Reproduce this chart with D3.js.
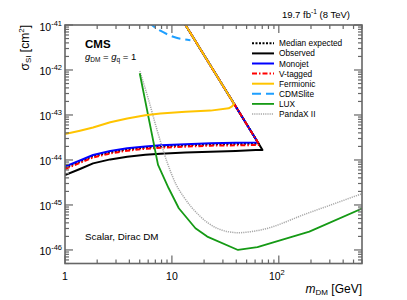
<!DOCTYPE html>
<html>
<head>
<meta charset="utf-8">
<script src="https://cdn.jsdelivr.net/npm/d3@7"></script>
<style>
body { margin: 0; background: #fff; }
text { font-family: "Liberation Sans", Arial, Helvetica, sans-serif; fill: #000; }
</style>
</head>
<body>
<script>
// dark matter mass (GeV) and cross-section limits (cm^2)
var obsMass = [1, 1.38, 1.83, 2.65, 3.82, 5.64, 7.8, 13.4, 23, 39.5, 60.8, 70.3, 64.9, 13.4, 11];
var obsSigma = [4.64e-45, 6.31e-45, 8.4e-45, 1.03e-44, 1.18e-44, 1.30e-44, 1.38e-44, 1.46e-44, 1.53e-44, 1.59e-44, 1.67e-44, 1.66e-44, 2.29e-44, 1e-41, 2.17e-41];

var expMass = [1, 1.38, 1.83, 2.65, 3.82, 5.64, 7.8, 13.4, 23, 39.5, 64.7, 13.4, 11];
var expSigma = [6.75e-45, 9.2e-45, 1.21e-44, 1.48e-44, 1.71e-44, 1.88e-44, 1.99e-44, 2.11e-44, 2.21e-44, 2.27e-44, 2.3e-44, 1e-41, 2.17e-41];

var monoMass = [1, 1.38, 1.83, 2.65, 3.82, 5.64, 7.8, 13.4, 23, 39.5, 63.7, 13.4, 11];
var monoSigma = [7.17e-45, 9.75e-45, 1.29e-44, 1.58e-44, 1.82e-44, 2.0e-44, 2.12e-44, 2.25e-44, 2.35e-44, 2.41e-44, 2.45e-44, 1e-41, 2.17e-41];

var vtagMass = [1, 1.38, 1.83, 2.65, 3.82, 5.64, 7.8, 13.4, 23, 39.5, 65.9, 13.4, 11];
var vtagSigma = [6.31e-45, 8.58e-45, 1.14e-44, 1.39e-44, 1.61e-44, 1.77e-44, 1.87e-44, 1.98e-44, 2.08e-44, 2.12e-44, 2.15e-44, 1e-41, 2.17e-41];

var fermMass = [1, 1.38, 1.83, 2.65, 3.82, 5.64, 7.8, 13.4, 23, 34, 36.5, 38.1, 13.4, 11];
var fermSigma = [3.78e-44, 4.48e-44, 5.27e-44, 6.89e-44, 8.36e-44, 9.85e-44, 1.08e-43, 1.18e-43, 1.25e-43, 1.41e-43, 1.55e-43, 1.77e-43, 1e-41, 2.17e-41];

var cdmsMass = [6.0, 6.5, 7.8, 9.34, 11.0, 12.9, 14.9];
var cdmsSigma = [1.2e-41, 1e-41, 7.46e-42, 6.0e-42, 5.2e-42, 4.81e-42, 4.57e-42];

var luxMass = [5.0, 7.42, 9.33, 11.6, 16.6, 21.4, 41.5, 63.1, 193, 600];
var luxSigma = [8.45e-43, 7.74e-45, 2.35e-45, 8.45e-46, 3.03e-46, 1.98e-46, 1.0e-46, 1.15e-46, 2.55e-46, 8.3e-46];

var pandaMass = [5.01, 6.06, 7.26, 9.01, 11.0, 12.9, 18.5, 26.5, 41.5, 67.7, 186, 600];
var pandaSigma = [9.5e-43, 2.15e-43, 4.65e-44, 9.0e-45, 2.78e-45, 1.51e-45, 5.5e-46, 3.03e-46, 2.42e-46, 2.78e-46, 6.55e-46, 1.78e-45];

var legendNames = ['Median expected', 'Observed', 'Monojet', 'V-tagged', 'Fermionic', 'CDMSlite', 'LUX', 'PandaX II'];
var xLabelTicks = [1, 10, 100];
var xLabelExp = ['', '', '2'];
var yLabelTicks = [1e-46, 1e-45, 1e-44, 1e-43, 1e-42, 1e-41];
var yLabelExp = ['-46', '-45', '-44', '-43', '-42', '-41'];

var width = 407, height = 300;
var margin = {left: 65, right: 45, top: 25, bottom: 36.5};

var svg = d3.select('body').append('svg')
    .attr('width', width)
    .attr('height', height);

var x = d3.scaleLog().domain([1, 600]).range([margin.left, width - margin.right]);
var y = d3.scaleLog().domain([5e-47, 1e-41]).range([height - margin.bottom, margin.top]);

svg.append('clipPath').attr('id', 'plotclip')
    .append('rect')
    .attr('x', x.range()[0]).attr('y', y.range()[1])
    .attr('width', x.range()[1] - x.range()[0])
    .attr('height', y.range()[0] - y.range()[1]);

var styles = {
    'Median expected': {color: '#000', width: 2, dash: '2,1.5'},
    'Observed': {color: '#000', width: 2, dash: null},
    'Monojet': {color: '#0000ff', width: 2, dash: null},
    'V-tagged': {color: '#ff0000', width: 2, dash: '5,2,1.5,2'},
    'Fermionic': {color: '#ffc400', width: 2, dash: null},
    'CDMSlite': {color: '#1e9fff', width: 2, dash: '9,5'},
    'LUX': {color: '#159a15', width: 1.8, dash: null},
    'PandaX II': {color: '#a8a8a8', width: 1.5, dash: '1.2,1'}
};

var curves = svg.append('g').attr('clip-path', 'url(#plotclip)');

function drawCurve(name, mass, sigma, curve) {
    var pts = mass.map(function (m, i) { return [m, sigma[i]]; });
    var line = d3.line()
        .x(function (d) { return x(d[0]); })
        .y(function (d) { return y(d[1]); })
        .curve(curve || d3.curveLinear);
    var s = styles[name];
    curves.append('path')
        .attr('d', line(pts))
        .attr('fill', 'none')
        .attr('stroke', s.color)
        .attr('stroke-width', s.width)
        .attr('stroke-dasharray', s.dash)
        .attr('stroke-linejoin', 'round');
}

drawCurve('Observed', obsMass, obsSigma);
drawCurve('Median expected', expMass, expSigma);
drawCurve('Monojet', monoMass, monoSigma);
drawCurve('V-tagged', vtagMass, vtagSigma);
drawCurve('PandaX II', pandaMass, pandaSigma, d3.curveMonotoneX);
drawCurve('LUX', luxMass, luxSigma);
drawCurve('Fermionic', fermMass, fermSigma);
drawCurve('CDMSlite', cdmsMass, cdmsSigma, d3.curveMonotoneX);

// frame and ticks
var frameColor = '#666';
var x0 = x.range()[0], x1 = x.range()[1], y0 = y.range()[0], y1 = y.range()[1];
var axes = svg.append('g').attr('stroke', frameColor).attr('stroke-width', 1.2);

x.ticks().forEach(function (v) {
    var major = Math.abs(Math.log10(v) - Math.round(Math.log10(v))) < 1e-9;
    var len = major ? 8 : 4;
    axes.append('line').attr('x1', x(v)).attr('x2', x(v)).attr('y1', y0).attr('y2', y0 - len);
    axes.append('line').attr('x1', x(v)).attr('x2', x(v)).attr('y1', y1).attr('y2', y1 + len);
});
y.ticks().forEach(function (v) {
    var major = Math.abs(Math.log10(v) - Math.round(Math.log10(v))) < 1e-9;
    var len = major ? 8 : 4;
    axes.append('line').attr('y1', y(v)).attr('y2', y(v)).attr('x1', x0).attr('x2', x0 + len);
    axes.append('line').attr('y1', y(v)).attr('y2', y(v)).attr('x1', x1).attr('x2', x1 - len);
});
svg.append('rect')
    .attr('x', x0).attr('y', y1)
    .attr('width', x1 - x0).attr('height', y0 - y1)
    .attr('fill', 'none')
    .attr('stroke', frameColor)
    .attr('stroke-width', 1.6);

// tick labels
xLabelTicks.forEach(function (v, i) {
    var t = svg.append('text')
        .attr('x', x(v) + (xLabelExp[i] ? -2 : 0))
        .attr('y', 280)
        .attr('text-anchor', 'middle')
        .attr('font-size', 10.5);
    t.append('tspan').text(v === 100 ? '10' : String(v));
    if (xLabelExp[i]) t.append('tspan').attr('dy', -5).attr('font-size', 7.5).text(xLabelExp[i]);
});
yLabelTicks.forEach(function (v, i) {
    var t = svg.append('text')
        .attr('x', 62)
        .attr('y', y(v) + 5.5)
        .attr('text-anchor', 'end')
        .attr('font-size', 10.5);
    t.append('tspan').text('10');
    t.append('tspan').attr('dy', -5).attr('font-size', 7.5).text(yLabelExp[i]);
});

// axis titles
var xt = svg.append('text')
    .attr('x', x1)
    .attr('y', 292.5)
    .attr('text-anchor', 'end')
    .attr('font-size', 12);
xt.append('tspan').attr('font-style', 'italic').text('m');
xt.append('tspan').attr('dy', 2.5).attr('font-size', 8).text('DM');
xt.append('tspan').attr('dy', -2.5).text(' [GeV]');

var yt = svg.append('text')
    .attr('transform', 'translate(28.5,' + y1 + ') rotate(-90)')
    .attr('text-anchor', 'end')
    .attr('font-size', 12);
yt.append('tspan').text('σ');
yt.append('tspan').attr('dy', 2.5).attr('font-size', 8).text('SI');
yt.append('tspan').attr('dy', -2.5).text(' [cm');
yt.append('tspan').attr('dy', -5).attr('font-size', 8).text('2');
yt.append('tspan').attr('dy', 5).text(']');

// header texts
var lumi = svg.append('text')
    .attr('x', 350)
    .attr('y', 17.5)
    .attr('text-anchor', 'end')
    .attr('font-size', 9.5);
lumi.append('tspan').text('19.7 fb');
lumi.append('tspan').attr('dy', -4).attr('font-size', 6.7).text('-1');
lumi.append('tspan').attr('dy', 4).text(' (8 TeV)');

svg.append('text')
    .attr('x', 85).attr('y', 48.3)
    .attr('font-size', 11.5)
    .attr('font-weight', 'bold')
    .text('CMS');

var coup = svg.append('text')
    .attr('x', 85).attr('y', 60)
    .attr('font-size', 9.5);
coup.append('tspan').attr('font-style', 'italic').text('g');
coup.append('tspan').attr('dy', 2.2).attr('font-size', 6.5).text('DM');
coup.append('tspan').attr('dy', -2.2).text(' = ');
coup.append('tspan').attr('font-style', 'italic').text('g');
coup.append('tspan').attr('dy', 2.2).attr('font-size', 6.5).text('q');
coup.append('tspan').attr('dy', -2.2).text(' = 1');

svg.append('text')
    .attr('x', 85).attr('y', 239.5)
    .attr('font-size', 9.8)
    .text('Scalar, Dirac DM');

// legend
var legend = svg.append('g');
legendNames.forEach(function (name, i) {
    var ly = 43.3 + i * 10.1;
    var s = styles[name];
    legend.append('line')
        .attr('x1', 252).attr('x2', 274)
        .attr('y1', ly).attr('y2', ly)
        .attr('stroke', s.color)
        .attr('stroke-width', s.width)
        .attr('stroke-dasharray', s.dash);
    legend.append('text')
        .attr('x', 279).attr('y', ly + 3)
        .attr('font-size', 8.3)
        .text(name);
});
</script>
</body>
</html>
